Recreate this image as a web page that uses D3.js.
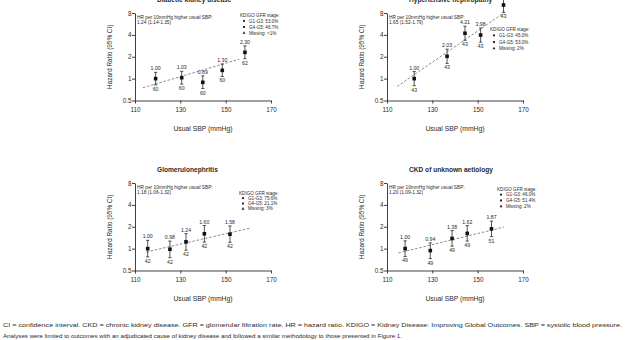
<!DOCTYPE html>
<html><head><meta charset="utf-8">
<script src="https://cdn.jsdelivr.net/npm/d3@7"></script>
<style>body{margin:0;background:#fff}svg{display:block;font-family:Arial,"Liberation Sans",sans-serif}</style>
</head><body><svg id="c" width="630" height="340"></svg>
<script>
const titles = ["Diabetic kidney disease","Hypertensive nephropathy","Glomerulonephritis","CKD of unknown aetiology"];
const sbpTicks = [110,130,150,170];
const hrTicks = [0.5,1,2,4,8];
const hrTickLabels = ["0.5","1","2","4","8"];
const xTitle = "Usual SBP (mmHg)";
const yTitle = "Hazard Ratio (95% CI)";
const hrHeader = "HR per 10mmHg higher usual SBP:";
const legendHeader = "KDIGO GFR stage:";

// Diabetic kidney disease
const dkdSbp = [119.1,130.6,139.9,148.5,158.5];
const dkdHr = [1.00,1.03,0.89,1.30,2.30];
const dkdLo = [0.82,0.84,0.73,1.07,1.88];
const dkdHi = [1.22,1.26,1.09,1.59,2.82];
const dkdEvents = [60,60,60,60,62];
const dkdTrendSbp = [113.5,156];
const dkdTrendHr = [0.75,1.85];
const dkdHrText = "1.24 (1.14-1.35)";
const dkdLegend = ["G1-G3: 53.0%","G4-G5: 46.7%","Missing: <1%"];

// Hypertensive nephropathy
const hnSbp = [122.0,136.5,144.4,151.3,161.4];
const hnHr = [1.00,2.03,4.21,3.98,10.30];
const hnLo = [0.80,1.62,3.37,3.18,8.20];
const hnHi = [1.25,2.54,5.26,4.98,12.90];
const hnEvents = [43,43,43,43,43];
const hnTrendSbp = [114.5,162];
const hnTrendHr = [0.78,8.2];
const hnHrText = "1.65 (1.52-1.79)";
const hnLegend = ["G1-G3: 45.0%","G4-G5: 53.0%","Missing: 2%"];

// Glomerulonephritis
const gnSbp = [115.6,125.4,132.5,140.6,151.9];
const gnHr = [1.00,0.98,1.24,1.60,1.58];
const gnLo = [0.77,0.75,0.95,1.23,1.22];
const gnHi = [1.30,1.27,1.61,2.08,2.05];
const gnEvents = [42,42,42,42,42];
const gnTrendSbp = [115,161];
const gnTrendHr = [0.90,1.92];
const gnHrText = "1.18 (1.06-1.32)";
const gnLegend = ["G1-G3: 75.6%","G4-G5: 21.1%","Missing: 3%"];

// CKD of unknown aetiology
const ckduSbp = [118.0,129.1,138.7,145.4,156.1];
const ckduHr = [1.00,0.94,1.38,1.62,1.87];
const ckduLo = [0.78,0.73,1.08,1.27,1.46];
const ckduHi = [1.28,1.20,1.77,2.07,2.39];
const ckduEvents = [49,49,49,49,51];
const ckduTrendSbp = [115,161.6];
const ckduTrendHr = [0.87,1.98];
const ckduHrText = "1.20 (1.09-1.32)";
const ckduLegend = ["G1-G3: 46.0%","G4-G5: 51.4%","Missing: 2%"];

const caption1 = "CI = confidence interval. CKD = chronic kidney disease. GFR = glomerular filtration rate. HR = hazard ratio.  KDIGO = Kidney Disease: Improving Global Outcomes. SBP = systolic blood pressure.";
const caption2 = "Analyses were limited to outcomes with an adjudicated cause of kidney disease and followed a similar methodology to those presented in Figure 1.";

const panels = [
  {sbp:dkdSbp,hr:dkdHr,lo:dkdLo,hi:dkdHi,ev:dkdEvents,ts:dkdTrendSbp,th:dkdTrendHr,txt:dkdHrText,leg:dkdLegend},
  {sbp:hnSbp,hr:hnHr,lo:hnLo,hi:hnHi,ev:hnEvents,ts:hnTrendSbp,th:hnTrendHr,txt:hnHrText,leg:hnLegend},
  {sbp:gnSbp,hr:gnHr,lo:gnLo,hi:gnHi,ev:gnEvents,ts:gnTrendSbp,th:gnTrendHr,txt:gnHrText,leg:gnLegend},
  {sbp:ckduSbp,hr:ckduHr,lo:ckduLo,hi:ckduHi,ev:ckduEvents,ts:ckduTrendSbp,th:ckduTrendHr,txt:ckduHrText,leg:ckduLegend}
];
// layout (positions only)
const layout = [
  {ox:135, oy:13, lx:240, ly:16.5, ls:6},
  {ox:387, oy:13, lx:490, ly:30.5, ls:6.5},
  {ox:135, oy:183, lx:239, ly:194.5, ls:5.3},
  {ox:387, oy:183, lx:497, ly:190.5, ls:5.8}
];
const W = 136, H = 87.5;
const svg = d3.select("#c");
const ink = "#2a2a2a";
const legendSymbols = [d3.symbolCircle, d3.symbolSquare, d3.symbolTriangle];

panels.forEach((p,i) => {
  const L = layout[i];
  const x = d3.scaleLinear().domain([110,170]).range([L.ox, L.ox+W]);
  const y = d3.scaleLog().domain([0.5,8]).range([L.oy+H, L.oy]);
  const g = svg.append("g");

  // title
  g.append("text").attr("x", L.ox+22).attr("y", L.oy-11.5)
    .attr("font-size",6.6).attr("font-weight","bold").attr("fill",ink).text(titles[i]);

  // axes
  const ax = g.append("g").attr("transform",`translate(0,${L.oy+H})`)
    .call(d3.axisBottom(x).tickValues(sbpTicks).tickSize(3).tickSizeOuter(0).tickFormat(d3.format("d")));
  ax.selectAll("text").attr("font-size",6.3).attr("fill",ink).attr("dy","0.9em");
  const ay = g.append("g").attr("transform",`translate(${L.ox},0)`)
    .call(d3.axisLeft(y).tickValues(hrTicks).tickSize(3).tickSizeOuter(0).tickFormat((d,k)=>hrTickLabels[k]));
  ay.selectAll("text").attr("font-size",6.3).attr("fill",ink).attr("x",-3.5);
  svg.selectAll(".domain, .tick line").attr("stroke",ink).attr("stroke-width",0.9);

  g.append("text").attr("x", L.ox+W/2).attr("y", L.oy+H+30.5).attr("text-anchor","middle")
    .attr("font-size",6.8).attr("fill",ink).text(xTitle);
  g.append("text").attr("transform",`translate(${L.ox-23},${L.oy+H/2}) rotate(-90)`)
    .attr("text-anchor","middle").attr("font-size",6.4).attr("fill",ink).text(yTitle);

  // HR annotation
  g.append("text").attr("x",L.ox+2).attr("y",L.oy+5.5).attr("font-size",4.8).attr("fill",ink).text(hrHeader);
  g.append("text").attr("x",L.ox+2).attr("y",L.oy+11.3).attr("font-size",4.8).attr("fill",ink).text(p.txt);

  // legend
  g.append("text").attr("x",L.lx).attr("y",L.ly).attr("font-size",4.6).attr("fill",ink).text(legendHeader);
  p.leg.forEach((t,k) => {
    const yy = L.ly + L.ls*(k+1);
    g.append("path").attr("d", d3.symbol().type(legendSymbols[k]).size(4)())
      .attr("transform",`translate(${L.lx+4},${yy-1.6})`).attr("fill",ink);
    g.append("text").attr("x",L.lx+9).attr("y",yy).attr("font-size",4.6).attr("fill",ink).text(t);
  });

  // trend line
  g.append("line").attr("x1",x(p.ts[0])).attr("y1",y(p.th[0])).attr("x2",x(p.ts[1])).attr("y2",y(p.th[1]))
    .attr("stroke","#8c8888").attr("stroke-width",1).attr("stroke-dasharray","2.5,1.8");

  // points
  p.sbp.forEach((s,k) => {
    const cx = x(s);
    g.append("line").attr("x1",cx).attr("x2",cx).attr("y1",y(p.lo[k])).attr("y2",y(p.hi[k]))
      .attr("stroke",ink).attr("stroke-width",0.8);
    [p.lo[k],p.hi[k]].forEach(v => g.append("line").attr("x1",cx-1.6).attr("x2",cx+1.6)
      .attr("y1",y(v)).attr("y2",y(v)).attr("stroke",ink).attr("stroke-width",0.8));
    g.append("rect").attr("x",cx-1.8).attr("y",y(p.hr[k])-1.8).attr("width",3.6).attr("height",3.6).attr("fill","#111");
    g.append("text").attr("x",cx).attr("y",y(p.hi[k])-2).attr("text-anchor","middle")
      .attr("font-size",5.2).attr("fill",ink).text(p.hr[k].toFixed(2));
    g.append("text").attr("x",cx).attr("y",y(p.lo[k])+6).attr("text-anchor","middle")
      .attr("font-size",5.2).attr("fill",ink).text(p.ev[k]);
  });
});

svg.append("text").attr("x",3).attr("y",327).attr("font-size",5.4).attr("fill",ink)
  .attr("textLength",619).attr("lengthAdjust","spacingAndGlyphs").text(caption1);
svg.append("text").attr("x",3).attr("y",337.5).attr("font-size",5.4).attr("fill",ink)
  .attr("textLength",399).attr("lengthAdjust","spacingAndGlyphs").text(caption2);
</script></body></html>
